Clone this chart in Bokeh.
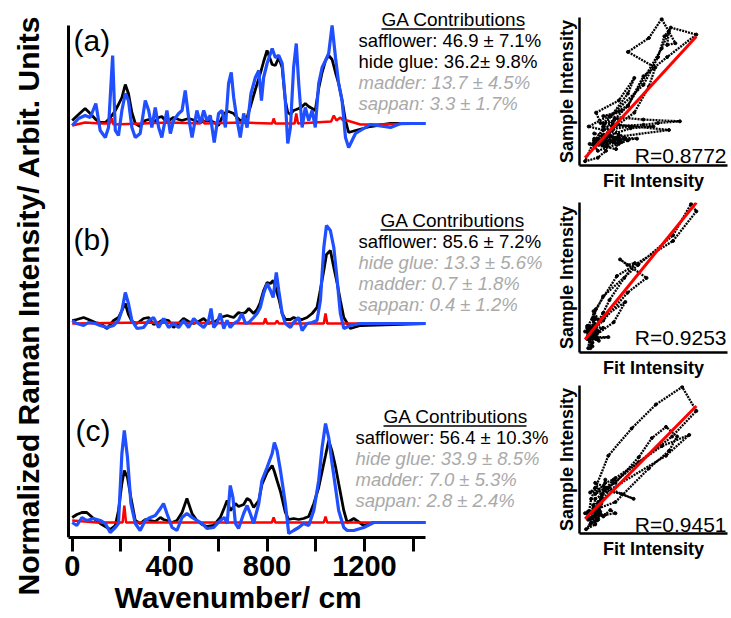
import numpy as np
from bokeh.plotting import figure
from bokeh.models import Range1d, FixedTicker, Title
from bokeh.layouts import row, column
from bokeh.embed import file_html
from bokeh.resources import INLINE
from bokeh.core.properties import value

# ------------------------------------------------------------------ data
# panel (a)
wn_a = [0, 26, 53, 74, 97, 115, 136, 149, 166, 177, 190, 204, 218, 231, 245, 259, 279, 300, 314, 327,
        341, 355, 368, 389, 403, 416, 437, 451, 464, 478, 492, 512, 526, 540, 553, 567, 583, 601, 615, 629,
        642, 653, 663, 677, 690, 704, 718, 734, 752, 766, 777, 786, 800, 821, 834, 848, 862, 875, 885, 896,
        909, 920, 930, 944, 957, 971, 985, 998, 1012, 1026, 1040, 1053, 1067, 1081, 1094, 1108, 1122, 1135,
        1163, 1224, 1307, 1348, 1450]
fit_a = [-3, 4, 7, 5, 19, -8, -15, -5, 67, -8, -13, 12, 29, 22, -5, -15, -11, 22, 12, -5,
         15, -5, -15, 12, -11, 2, 9, 12, 32, 5, -15, 12, -1, 12, 2, 7, -20, 9, 12, -5,
         39, 50, 25, 2, -15, 9, -5, 29, 45, 52, 22, 45, 59, 74, 65, 67, 59, 22, -21, -5,
         55, 79, 39, -5, 15, 2, 12, -5, 39, 55, 62, 69, 97, 65, 39, 22, -15, -25,
         -11, -2, -5, -1, -1]
sample_a = [2, 8, 14, 9, 3, 0, 0, 3, 8, 12, 18, 25, 38, 29, 10, -1, -4, 2, 3, 1,
            1, 5, 6, 0, 3, 5, 3, 2, 3, 4, 3, 1, 0, 1, 2, 2, 0, -3, 5, 10,
            11, 10, 9, 5, 2, 3, 5, 18, 33, 44, 53, 61, 72, 58, 57, 65, 55, 22, 10, 8,
            12, 13, 14, 16, 19, 16, 14, 12, 34, 50, 62, 67, 63, 50, 39, 22, 2, -10,
            -8, -4, -1, -1, -1]
red_wn_a = [0, 53, 115, 155, 162, 170, 400, 526, 533, 543, 700, 821, 827, 834, 913, 920, 927,
            1063, 1074, 1085, 1101, 1112, 1129, 1183, 1238, 1450]
red_a = [-3, 0, -1, -1, 4, -2, 0, -1, 5, -1, 0, -1, 4, -1, -1, 9, -1,
         1, 7, 2, 5, 2, 2, -2, -2, -1]

# panel (b)
wn_b = [0, 19, 47, 67, 95, 115, 143, 170, 190, 204, 218, 231, 245, 266, 293, 314, 334, 355, 375, 396,
        416, 437, 457, 478, 499, 519, 540, 560, 570, 581, 594, 608, 622, 636, 649, 663, 683, 697, 711, 725,
        745, 759, 772, 786, 800, 814, 825, 838, 848, 862, 875, 896, 909, 930, 944, 964, 985, 1005, 1019, 1033,
        1044, 1060, 1074, 1088, 1101, 1115, 1142, 1183, 1450]
fit_b = [2, -1, -3, 0, -1, -3, -5, -3, 2, 12, 30, 19, 2, -6, -5, 2, 5, -5, 4, -5,
         -1, -5, 2, -5, 4, -1, -5, 2, 14, -5, -1, 9, -6, 2, -5, -1, 2, 9, -1, 0,
         5, 9, 15, 29, 39, 32, 25, 50, 32, 9, -1, -5, 0, 5, -8, -1, 0, 2, 22, 75,
         97, 92, 75, 42, 9, -6, -3, -1, -1]
sample_b = [2, 3, 5, 3, 0, -1, -6, 2, 5, 12, 19, 8, 1, -1, 4, 5, -2, 0, 3, 2,
            -5, -1, 4, 1, -1, 1, 4, -1, 0, 0, 2, 5, 6, 7, 6, 5, 10, 9, 10, 14,
            9, 13, 20, 32, 40, 39, 42, 32, 24, 9, 3, 3, 5, 3, 3, 5, 9, 15, 33, 52,
            68, 72, 55, 39, 22, 5, -6, -3, -1]
red_wn_b = [0, 300, 786, 793, 800, 834, 841, 848, 1033, 1040, 1047, 1450]
red_b = [-1, 0, -1, 4, -1, -1, 2, -1, -1, 9, -1, -1]

# panel (c)
wn_c = [0, 19, 40, 60, 88, 115, 136, 156, 177, 190, 204, 214, 227, 241, 259, 279, 300, 321, 341, 362,
        375, 389, 410, 430, 451, 471, 492, 512, 533, 553, 581, 608, 625, 636, 649, 660, 670, 683, 704, 718,
        731, 745, 766, 779, 800, 821, 830, 841, 855, 875, 889, 909, 930, 950, 971, 992, 1012, 1026, 1040, 1053,
        1067, 1081, 1094, 1115, 1129, 1156, 1197, 1238, 1450]
fit_c = [0, -3, 5, 2, 4, 2, -1, -10, -5, -1, 69, 92, 65, 19, -1, -8, 2, 5, 7, 14,
         19, 9, -5, -8, 5, 9, 5, 2, -1, -6, -5, 2, 5, -1, 37, 25, -1, -6, 9, 17,
         9, -1, 19, 42, 55, 69, 80, 72, 52, 19, -11, -8, -5, -1, -3, 12, 42, 75, 99, 85,
         59, 35, 12, -5, -8, -8, -5, 0, 0]
sample_c = [5, 8, 10, 10, 4, -1, -4, -7, -3, 12, 39, 52, 45, 25, 2, -1, 3, 2, 1, 5,
            3, 2, 0, 2, 10, 24, 9, 2, -2, -4, -3, 5, 15, 22, 12, 15, 19, 16, 18, 24,
            22, 15, 22, 38, 50, 57, 51, 42, 31, 10, 3, 4, 3, 4, 6, 19, 35, 51, 67, 82,
            71, 56, 39, 12, 0, 4, -3, 0, 0]
red_wn_c = [0, 100, 207, 214, 221, 400, 820, 827, 834, 1033, 1040, 1047, 1450]
red_c = [2, 0, 0, 17, 0, 0, 0, 5, 0, 0, 6, 0, 0]

panel_offsets = [415, 215, 15]
panel_labels = ["(a)", "(b)", "(c)"]
header = "GA Contributions"
contrib_a = ["safflower: 46.9 \u00b1 7.1%", "hide glue: 36.2\u00b1 9.8%", "madder: 13.7 \u00b1 4.5%", "sappan: 3.3 \u00b1 1.7%"]
contrib_b = ["safflower: 85.6 \u00b1 7.2%", "hide glue: 13.3 \u00b1 5.6%", "madder: 0.7 \u00b1 1.8%", "sappan: 0.4 \u00b1 1.2%"]
contrib_c = ["safflower: 56.4 \u00b1 10.3%", "hide glue: 33.9 \u00b1 8.5%", "madder: 7.0 \u00b1 5.3%", "sappan: 2.8 \u00b1 2.4%"]
strong_a = [True, True, False, False]
strong_b = [True, False, False, False]
strong_c = [True, False, False, False]
r_texts = ["R=0.8772", "R=0.9253", "R=0.9451"]
x_ticks = [0, 200, 400, 600, 800, 1000, 1200, 1400]
x_tick_labels = ["0", "", "400", "", "800", "", "1200", ""]
x_title = "Wavenumber/ cm"
y_title = "Normalized Raman Intensity/ Arbit. Units"

# ------------------------------------------------------------------ style / layout
FONT = "Liberation Sans"
BLUE = "#1f4fff"
GRAY = "#a9a9a9"
LEFT_B = 45
MAIN_RIGHT = 551
K = 1400.0 / 341.0          # wavenumber units per pixel
X0PX = 71.7                 # pixel of wavenumber 0


def X(px):
    return (px - X0PX) * K


def Y(py):
    return 537 - py


p = figure(width=MAIN_RIGHT, height=618, x_range=Range1d(X(LEFT_B), X(MAIN_RIGHT)),
           y_range=Range1d(0, 537), output_backend="svg", toolbar_location=None,
           min_border_left=LEFT_B, min_border_right=0, min_border_top=0, min_border_bottom=81)
p.outline_line_color = None
p.grid.visible = False

p.xaxis.bounds = (X(68), X(425))
p.xaxis.ticker = FixedTicker(ticks=x_ticks, minor_ticks=[])
p.xaxis.major_label_overrides = {tk: lb for tk, lb in zip(x_ticks, x_tick_labels)}
p.xaxis.major_label_text_font = FONT
p.xaxis.major_label_text_font_size = "29px"
p.xaxis.major_label_text_font_style = "bold"
p.xaxis.major_label_text_color = "black"
p.xaxis.major_label_standoff = 4
p.xaxis.major_tick_out = 14
p.xaxis.major_tick_in = 0
p.xaxis.major_tick_line_width = 3
p.xaxis.axis_line_width = 3

p.add_layout(Title(text=x_title, align="left", offset=114 - LEFT_B, standoff=0, text_font=FONT,
                   text_font_size="30px", text_font_style="bold", text_color="black"), "below")
p.add_layout(Title(text=y_title, align="left", offset=-58, standoff=0, vertical_align="middle",
                   text_font=FONT, text_font_size="30px", text_font_style="bold",
                   text_color="black"), "left")

p.yaxis.fixed_location = X(68)
p.yaxis.bounds = (0, 512)
p.yaxis.ticker = FixedTicker(ticks=[], minor_ticks=[])
p.yaxis.major_label_text_font_size = "0px"
p.yaxis.major_label_standoff = 0
p.yaxis.major_tick_out = 0
p.yaxis.minor_tick_out = 0
p.yaxis.axis_line_width = 3

panels = [
    (wn_a, sample_a, fit_a, red_wn_a, red_a, contrib_a, strong_a),
    (wn_b, sample_b, fit_b, red_wn_b, red_b, contrib_b, strong_b),
    (wn_c, sample_c, fit_c, red_wn_c, red_c, contrib_c, strong_c),
]
label_pos = [(73, 40), (73, 238.5), (75, 430)]
ga_pos = [(381, 19), (380, 220), (383, 416)]
line_px = [358, 358, 355]
LINE_H = 21

for i, (wn, samp, fit, rwn, rv, contrib, strong) in enumerate(panels):
    off = panel_offsets[i]
    p.line(wn, [v + off for v in samp], line_color="black", line_width=2.8)
    p.line(rwn, [v + off for v in rv], line_color="red", line_width=2.5)
    p.line(wn, [v + off for v in fit], line_color=BLUE, line_width=3.2)

    lx, ly = label_pos[i]
    p.text(x=[X(lx)], y=[Y(ly)], text=[panel_labels[i]], text_font=value(FONT),
           text_font_size=value("30px"), text_color="black", text_align="left", text_baseline="middle")

    gx, gy = ga_pos[i]
    p.text(x=[X(gx)], y=[Y(gy)], text=[header], text_font=value(FONT), text_font_size=value("19px"),
           text_color="black", text_align="left", text_baseline="middle")
    p.segment(x0=[X(gx)], y0=[Y(gy + 9.5)], x1=[X(gx + 143)], y1=[Y(gy + 9.5)], line_color="black", line_width=1.3)
    for k, (txt, s) in enumerate(zip(contrib, strong)):
        p.text(x=[X(line_px[i])], y=[Y(gy + LINE_H * (k + 1))], text=[txt], text_font=value(FONT),
               text_font_size=value("18.5px"), text_color="black" if s else GRAY,
               text_font_style="normal" if s else "italic",
               text_align="left", text_baseline="middle")


# ------------------------------------------------------------------ correlation plots
def make_scatter(fit, samp, rtext, height, top, bottom, left, r_up):
    fit = np.asarray(fit, float)
    samp = np.asarray(samp, float)
    x0, x1 = fit.min(), fit.max()
    y0, y1 = samp.min(), samp.max()
    dx, dy = x1 - x0, y1 - y0
    xr = Range1d(x0 - 0.05 * dx, x1 + 0.28 * dx)
    yr = Range1d(y0 - 0.03 * dy, y1 + 0.01 * dy)
    frame_h = height - top - bottom
    s = figure(width=731 - MAIN_RIGHT, height=height, x_range=xr, y_range=yr, output_backend="svg",
               toolbar_location=None, min_border_left=left, min_border_right=4,
               min_border_top=top, min_border_bottom=bottom)
    s.outline_line_color = None
    s.grid.visible = False
    for ax in (s.xaxis, s.yaxis):
        ax.ticker = FixedTicker(ticks=[], minor_ticks=[])
        ax.major_label_text_font_size = "0px"
        ax.major_tick_out = 0
        ax.minor_tick_out = 0
        ax.major_label_standoff = 0
        ax.axis_line_width = 2.5
        ax.axis_label_text_font = FONT
        ax.axis_label_text_font_size = "18px"
        ax.axis_label_text_font_style = "bold"
        ax.axis_label_text_color = "black"
    s.xaxis.axis_label = "Fit Intensity"
    s.yaxis.axis_label = "Sample Intensity"
    s.xaxis.axis_label_standoff = 5
    s.yaxis.axis_label_standoff = 3

    s.line(fit, samp, line_color="black", line_width=2.3, line_dash="2 1")
    s.scatter(fit, samp, size=3, color="black")
    m, b = np.polyfit(fit, samp, 1)
    s.line([x0, x1], [m * x0 + b, m * x1 + b], line_color="red", line_width=3)
    ty = yr.start + r_up * (yr.end - yr.start) / frame_h
    s.text(x=[xr.end], y=[ty], text=[rtext], text_font=value(FONT), text_font_size=value("21px"),
           text_color="black", text_align="right", text_baseline="middle", x_offset=-1)
    return s


sa = make_scatter(fit_a, sample_a, r_texts[0], 195, 17, 30, 577 - MAIN_RIGHT, 10.5)
sb = make_scatter(fit_b, sample_b, r_texts[1], 188, 7, 31, 579 - MAIN_RIGHT, 15)
sc = make_scatter(fit_c, sample_c, r_texts[2], 235, 2, 85, 575 - MAIN_RIGHT, 9)

layout = row(p, column(sa, sb, sc))
open("out.html", "w").write(file_html(layout, INLINE))
